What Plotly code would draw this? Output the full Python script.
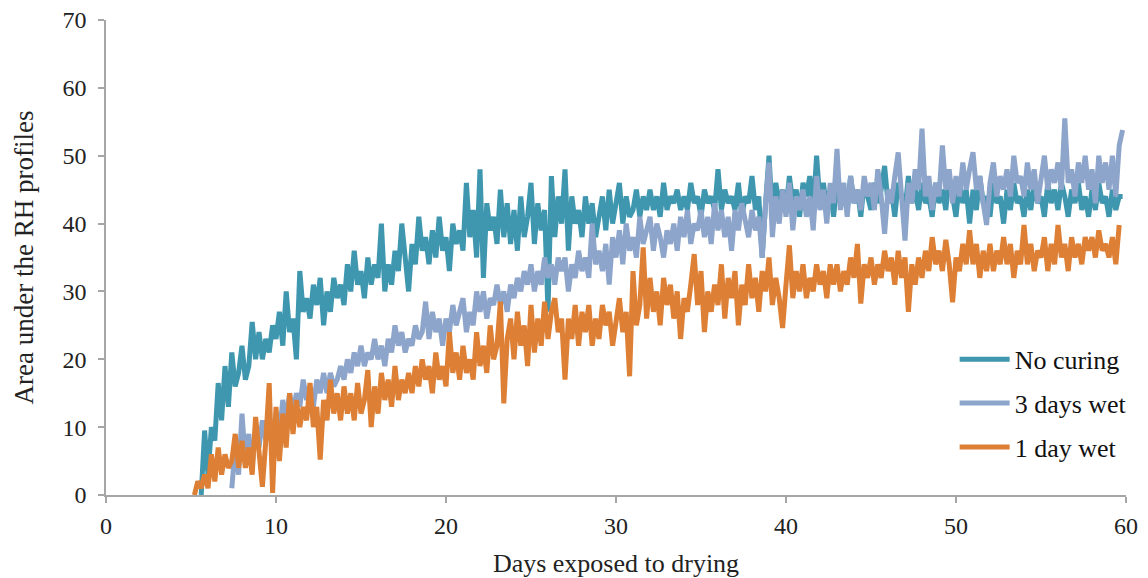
import plotly.graph_objects as go

step = 0.2

no_curing_start = 5.6
no_curing = [
    0, 9.5,
    3, 10, 8, 16.5, 11,   19, 13, 21, 16, 18,
    22, 17, 19, 25.5, 20,  24, 20, 23, 21, 25,
    23, 27, 22, 30, 24,   26, 20, 33, 27, 29,
    26, 31, 28, 32, 25,   30, 27, 32, 29, 31,
    28, 34, 30, 36, 31,   33, 29, 35, 31, 34,
    32, 40, 30, 34, 31,   36, 33, 40, 35, 30,
    37, 34, 41, 36, 38,   34, 39, 35, 41, 36,
    38, 33, 40, 37, 39,   36, 46, 38, 42, 35,
    48, 32, 43, 39, 41,   37, 45, 38, 43, 37,
    42, 36, 44, 38, 41,   46, 37, 43, 39, 42,
    27, 47, 38, 44, 40,   48, 36, 44, 40, 42,
    38, 44, 40, 43, 38,   41, 44, 39, 45, 40,
    43, 46, 40, 44, 41,   42, 45, 41, 44, 42,
    45, 42, 44, 41, 46,   42, 44, 43, 45, 42,
    44, 42, 46, 43, 44,   41, 45, 43, 44, 42,
    48, 42, 45, 43, 44,   42, 46, 41, 44, 43,
    47, 42, 44, 35, 43,   50, 41, 46, 43, 45,
    42, 47, 43, 45, 41,   46, 44, 47, 42, 50,
    43, 46, 42, 45, 41,   46, 43, 45, 42, 47,
    43, 45, 41, 46, 44,   42, 46, 43, 45, 48.5,
    43, 45, 41, 46, 44,   42, 47, 43, 45, 42,
    46, 43, 44, 41, 46,   43, 45, 42, 47, 44,
    41, 46, 43, 45, 40,   45, 42, 47, 43, 44,
    41, 46, 43, 44, 40,   45, 42, 46, 43, 44,
    41, 45, 42, 46, 43,   44, 41, 46, 43, 45,
    42, 46, 44, 41, 45,   43, 46, 42, 44, 41,
    45, 42, 46, 43, 44,   41, 45, 42, 44, 44,
]

three_days_start = 7.4
three_days = [
    1, 7, 3,
    12, 5, 9, 4, 10,      7, 11, 8, 10, 9,
    12, 9, 14, 11, 15,    12, 15, 13, 17, 14,
    16, 13, 17, 15, 18,   15, 18, 16, 17, 19,
    17, 20, 18, 21, 19,   22, 19, 21, 20, 23,
    20, 22, 19, 23, 21,   25, 22, 24, 21, 23,
    22, 25, 23, 24, 28.5, 23, 27, 24, 26, 22,
    26, 24, 28, 25, 27,   29, 24, 27, 25, 30,
    27, 30, 26, 29, 28,   31, 28, 30, 27, 31,
    29, 32, 30, 33, 31,   34, 30, 33, 31, 35,
    32, 34, 31, 35, 33,   35, 30, 34, 32, 36,
    33, 35, 32, 40, 34,   36, 33, 37, 31, 38,
    35, 39, 34, 40, 36,   38, 35, 41, 37, 39,
    41, 36, 40, 38, 35,   39, 37, 40, 36, 41,
    38, 42, 37, 40, 39,   42, 38, 41, 37, 43,
    39, 42, 38, 41, 36,   42, 39, 43, 40, 38,
    42, 39, 41, 35, 43,   49, 38, 44, 40, 45,
    41, 46, 39, 44, 42,   45, 41, 44, 39, 47,
    42, 45, 40, 46, 43,   51, 42, 46, 41, 47,
    43, 45, 42, 47, 44,   46, 42, 48, 44, 38.5,
    45, 43, 47, 50.5, 44, 37.5, 46, 43, 48, 45,
    54, 44, 47, 42, 46,   44, 51.5, 45, 48, 43,
    47, 44, 49, 45, 48,   50.5, 45, 47, 43, 39.8,
    46, 49, 44, 47, 45,   48, 44, 50, 46, 47,
    44, 49, 45, 48, 43,   47, 50, 45, 48, 46,
    49, 45, 55.5, 46, 48, 44, 49, 46, 50, 45,
    48, 43, 50, 46, 49,   45, 50, 44, 51.5, 53.8,
]

one_day_start = 5.2
one_day = [
    0, 2, 1, 3,
    1, 6, 2, 7, 3,        6, 4, 5, 9, 4,
    8, 4, 7, 3, 11.5,     6, 1.2, 8, 16.5, 0.3,
    13, 5, 12, 7, 15,     9, 14, 10, 13, 11,
    16.5, 10, 13, 5.2, 14, 11, 17, 12, 15, 11,
    16, 12, 15, 11, 16.5, 12, 14, 18.4, 10, 16,
    12, 18, 14, 17, 13,   19, 14, 17, 15, 18,
    15, 19, 16, 20, 17,   19, 15, 21, 17, 19,
    16, 24, 18, 21, 17,   22, 18, 20, 17, 24,
    19, 22, 18, 25, 20,   22, 28.5, 13.5, 23, 26,
    20, 27, 22, 25, 19,   28, 21, 26, 22, 28.5,
    23, 27, 29, 24, 26,   17, 26, 23, 28, 22,
    27, 24, 28, 22, 26,   23, 28, 25, 27, 22,
    26, 29, 24, 27, 17.5, 33, 25, 28, 36.5, 26,
    32, 27, 30, 25, 32,   28, 31, 26, 30, 23,
    29, 27, 31, 35.5, 28, 33, 24, 30, 27, 31,
    28, 34, 26, 32, 29,   33, 25, 31, 28, 34,
    29, 32, 27, 33, 30,   35, 28, 32, 29, 24.6,
    31, 36.8, 29, 33, 30, 34, 29, 32, 30, 34,
    31, 33, 29, 34, 31,   34, 30, 33, 31, 35,
    32, 37, 28.2, 34, 32, 35, 31, 34, 32, 36,
    33, 35, 31, 36, 32,   35, 27, 34, 31, 35,
    32, 36, 33, 38, 34,   36, 33, 37.6, 34, 28.4,
    35, 33, 37, 34, 39,   34, 37, 32, 36, 33,
    37, 33, 36, 34, 38,   34, 37, 32, 36, 34,
    39.8, 34, 37, 33, 36, 35, 38, 33, 37, 34,
    39.8, 35, 37, 33, 38, 35, 37, 34, 38, 36,
    38, 35, 39, 36, 37,   35, 38, 34, 39.8,
]

series_names = ["No curing", "3 days wet", "1 day wet"]
colors = ["#3F97AF", "#8EA5CB", "#DD8036"]


def days_for(start, vals):
    return [round(start + i * step, 2) for i in range(len(vals))]


fig = go.Figure()
for i, (name, start, vals) in enumerate([
    (series_names[0], no_curing_start, no_curing),
    (series_names[1], three_days_start, three_days),
    (series_names[2], one_day_start, one_day),
]):
    fig.add_trace(go.Scatter(
        x=days_for(start, vals), y=vals, mode="lines", name=name,
        legendgroup=f"g{i}",
        line=dict(color=colors[i], width=5),
    ))

font_family = "Liberation Serif, Times New Roman, serif"
axis_col = "#A6A6A6"

fig.update_layout(
    width=1148, height=578,
    margin=dict(l=106, r=22, t=20, b=83, autoexpand=False),
    paper_bgcolor="white", plot_bgcolor="white",
    font=dict(family=font_family, size=24, color="#222"),
    showlegend=True,
    legend=dict(
        x=0.832, y=0.335, xanchor="left", yanchor="top",
        bgcolor="rgba(0,0,0,0)", tracegroupgap=7, itemwidth=50,
        font=dict(family=font_family, size=26, color="#111"),
    ),
    xaxis=dict(
        range=[0, 60], dtick=10, tick0=0, automargin=False,
        showline=True, linecolor=axis_col, linewidth=1.5,
        ticks="outside", ticklen=6, tickcolor=axis_col, tickwidth=1.5,
        ticklabelstandoff=2,
        showgrid=False, zeroline=False,
        tickfont=dict(family=font_family, size=24),
        title=dict(text="Days exposed to drying", standoff=16,
                   font=dict(family=font_family, size=26)),
    ),
    yaxis=dict(
        range=[0, 70], dtick=10, tick0=0, automargin=False,
        showline=True, linecolor=axis_col, linewidth=1.5,
        ticks="outside", ticklen=6, tickcolor=axis_col, tickwidth=1.5,
        ticklabelstandoff=7,
        showgrid=False, zeroline=False,
        tickfont=dict(family=font_family, size=24),
        title=dict(text="Area under the RH profiles", standoff=21,
                   font=dict(family=font_family, size=27)),
    ),
)

fig.write_html("out.html")
